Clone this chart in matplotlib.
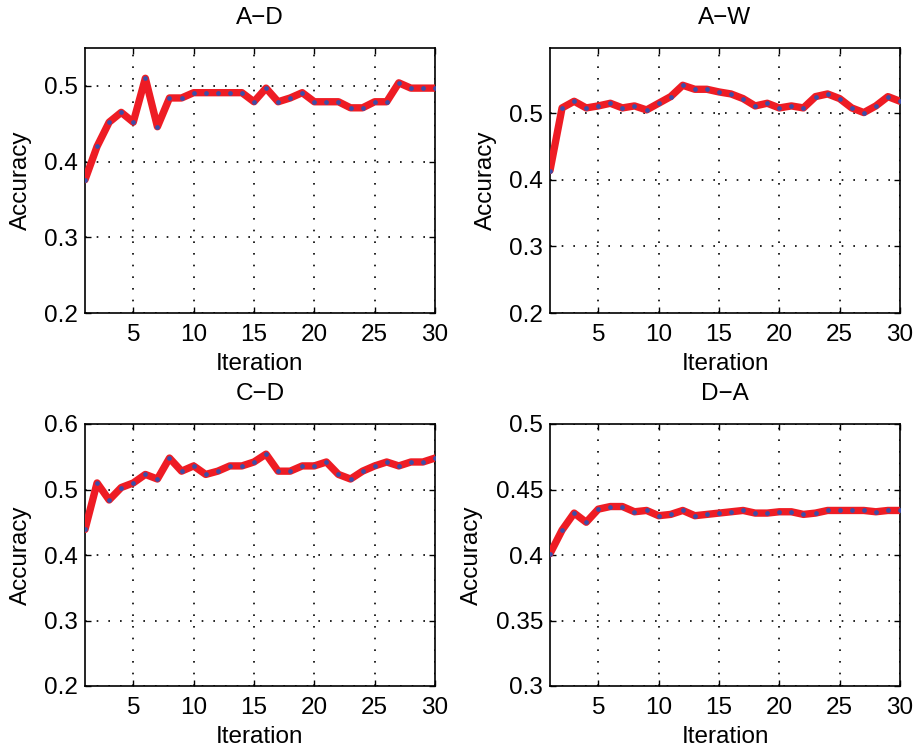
import matplotlib
matplotlib.use("Agg")
import matplotlib.pyplot as plt

plt.rcParams["font.family"] = ["Liberation Sans", "DejaVu Sans"]

iterations = list(range(1, 31))

acc_ad = [0.376, 0.420, 0.452, 0.465, 0.452, 0.510, 0.446, 0.484, 0.484, 0.491,
          0.491, 0.491, 0.491, 0.491, 0.479, 0.497, 0.479, 0.484, 0.491, 0.479,
          0.479, 0.479, 0.471, 0.471, 0.479, 0.479, 0.504, 0.497, 0.497, 0.497]
acc_aw = [0.414, 0.508, 0.518, 0.508, 0.511, 0.515, 0.508, 0.511, 0.505, 0.515,
          0.525, 0.542, 0.536, 0.536, 0.532, 0.529, 0.522, 0.511, 0.515, 0.508,
          0.511, 0.508, 0.525, 0.529, 0.522, 0.508, 0.501, 0.511, 0.525, 0.518]
acc_cd = [0.439, 0.510, 0.484, 0.503, 0.510, 0.523, 0.516, 0.548, 0.528, 0.536,
          0.523, 0.528, 0.536, 0.536, 0.542, 0.554, 0.528, 0.528, 0.536, 0.536,
          0.542, 0.523, 0.516, 0.528, 0.536, 0.542, 0.536, 0.542, 0.542, 0.548]
acc_da = [0.401, 0.419, 0.432, 0.425, 0.435, 0.437, 0.437, 0.433, 0.434, 0.430,
          0.431, 0.434, 0.430, 0.431, 0.432, 0.433, 0.434, 0.432, 0.432, 0.433,
          0.433, 0.431, 0.432, 0.434, 0.434, 0.434, 0.434, 0.433, 0.434, 0.434]

titles = ["A\u2212D", "A\u2212W", "C\u2212D", "D\u2212A"]
series = [acc_ad, acc_aw, acc_cd, acc_da]
ylims = [(0.2, 0.55), (0.2, 0.598), (0.2, 0.6), (0.3, 0.5)]
yticks = [[0.2, 0.3, 0.4, 0.5], [0.2, 0.3, 0.4, 0.5],
          [0.2, 0.3, 0.4, 0.5, 0.6], [0.3, 0.35, 0.4, 0.45, 0.5]]
ytick_labels = [["0.2", "0.3", "0.4", "0.5"], ["0.2", "0.3", "0.4", "0.5"],
                ["0.2", "0.3", "0.4", "0.5", "0.6"],
                ["0.3", "0.35", "0.4", "0.45", "0.5"]]
xticks = [5, 10, 15, 20, 25, 30]

W, H = 914, 754
# axes boxes in pixels: left, top, right, bottom
boxes = [(85, 48, 435, 313), (550, 48, 900, 313),
         (85, 424, 435, 686), (550, 424, 900, 686)]

fig = plt.figure(figsize=(W / 100, H / 100), dpi=100)
FS = 17.5

for (l, t, r, b), title, y, yl, yt, ytl in zip(boxes, titles, series, ylims, yticks, ytick_labels):
    ax = fig.add_axes([l / W, 1 - b / H, (r - l) / W, (b - t) / H])
    ax.plot(iterations, y, color="#ee1c24", linewidth=5.3, solid_joinstyle="round",
            solid_capstyle="round", zorder=3)
    ax.plot(iterations, y, linestyle="none", marker="o", markersize=3.4,
            color="#3b4ea8", markeredgewidth=0, zorder=4)
    ax.set_xlim(1, 30)
    ax.set_ylim(*yl)
    ax.set_xticks(xticks)
    ax.set_yticks(yt)
    ax.set_yticklabels(ytl)
    ax.grid(True, color="black", linestyle=(0, (1, 6)), linewidth=1.2)
    ax.tick_params(direction="in", top=True, right=True, length=4, width=1,
                   labelsize=FS, pad=5)
    ax.tick_params(axis="x", pad=8)
    for sp in ax.spines.values():
        sp.set_linewidth(1.2)
    ax.set_title(title, fontsize=FS, pad=17)
    ax.set_xlabel("Iteration", fontsize=FS, labelpad=5)
    ax.set_ylabel("Accuracy", fontsize=FS, labelpad=9)

fig.savefig("out.png", dpi=100)
